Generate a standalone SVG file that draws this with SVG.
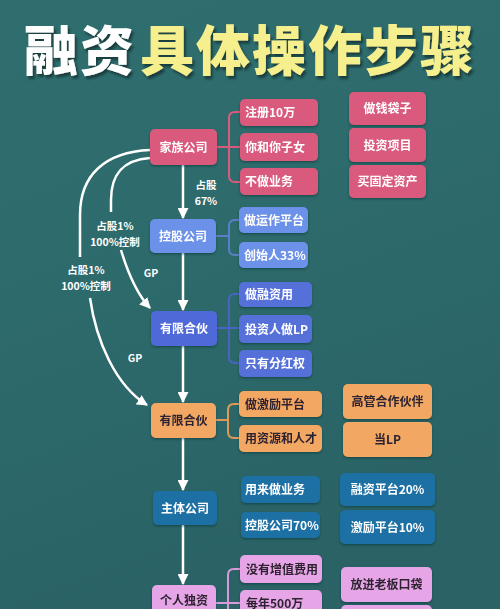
<svg xmlns="http://www.w3.org/2000/svg" width="500" height="609" viewBox="0 0 500 609">
<defs>
<linearGradient id="bg" x1="0" y1="0" x2="0.3" y2="1">
<stop offset="0" stop-color="#2f6e6f"/>
<stop offset="0.5" stop-color="#2d6a6b"/>
<stop offset="1" stop-color="#2a6265"/>
</linearGradient>
<filter id="shadow" x="-5%" y="-10%" width="110%" height="130%">
<feDropShadow dx="2" dy="3" stdDeviation="1.2" flood-color="#0e2a2b" flood-opacity="0.7"/>
</filter>
<filter id="bs" x="-10%" y="-10%" width="120%" height="130%">
<feDropShadow dx="0" dy="1.5" stdDeviation="1.2" flood-color="#0e2a2b" flood-opacity="0.45"/>
</filter>
<marker id="ah" viewBox="0 0 10 10" refX="9" refY="5" markerWidth="4.4" markerHeight="4.4" orient="auto" markerUnits="strokeWidth">
<path d="M0 0 L10 5 L0 10 Z" fill="#ffffff"/>
</marker>
</defs>
<style>
text{font-family:"Noto Sans CJK SC","Noto Sans",sans-serif;font-weight:700}
.t{font-size:54px;font-weight:900;letter-spacing:2px}
.n{font-size:12px;text-anchor:middle}
.l{font-size:12px}
.lab{font-size:10.5px;fill:#ffffff;text-anchor:middle}
.w{fill:#ffffff}
.d{fill:#2e2430}
.pk{fill:#d95a7d}
.lb{fill:#6c91e8}
.bl{fill:#4f6bd8}
.bl2{fill:#5670d9}
.or{fill:#f2a762}
.db{fill:#1d6fa3}
.lv{fill:#e6a5e6}
.arr{fill:none;stroke:#ffffff;stroke-width:2.5;marker-end:url(#ah)}
.cv{fill:none;stroke:#ffffff;stroke-width:2.5}
.br{fill:none;stroke-width:2}
</style>
<rect x="0" y="0" width="500" height="609" fill="url(#bg)"/>
<g id="title" filter="url(#shadow)">
<text class="t" x="24" y="71"><tspan fill="#ffffff">融资</tspan><tspan fill="#f6ef8e" dx="4">具体操作步骤</tspan></text>
</g>
<g id="connectors">
<path class="arr" d="M183 165 L183 218"/>
<path class="arr" d="M183 253 L183 310"/>
<path class="arr" d="M183 346 L183 402"/>
<path class="arr" d="M183 438 L183 490"/>
<path class="arr" d="M183 525 L183 584"/>
<path class="cv" d="M150 150 C105 152 80 175 80 215 L80 257"/>
<path class="arr" d="M90 298 C96 340 115 385 147 405"/>
<path class="cv" d="M150 158 C122 160 111 175 111 200 L111 212"/>
<path class="arr" d="M121 250 C127 270 135 292 150 308"/>
<path class="br" stroke="#d95a7d" d="M217 147 L229 147 M240 112 L235 112 Q229 112 229 118 L229 176 Q229 182 235 182 L240 182 M229 147 L240 147"/>
<path class="br" stroke="#5a7fc8" stroke-width="1.5" d="M216 236 L229 236 M239 220 L235 220 Q229 220 229 226 L229 249 Q229 255 235 255 L239 255"/>
<path class="br" stroke="#4a64c4" stroke-width="1.5" d="M217 328 L239 328 M239 294 L235 294 Q229 294 229 300 L229 357 Q229 363 235 363 L239 363"/>
<path class="br" stroke="#e09a55" d="M216 420 L228 420 M239 404 L234 404 Q228 404 228 410 L228 432 Q228 438 234 438 L239 438"/>
<path class="br" stroke="#d89ad8" d="M216 603 L240 603 M240 569 L234 569 Q228 569 228 575 L228 612"/>
</g>
<g id="labels">
<text class="lab" x="206" y="189">占股</text>
<text class="lab" x="206" y="204.5">67%</text>
<text class="lab" x="115" y="230">占股1%</text>
<text class="lab" x="115" y="245.5">100%控制</text>
<text class="lab" x="86" y="274">占股1%</text>
<text class="lab" x="86" y="289.5">100%控制</text>
<text class="lab" x="151" y="277">GP</text>
<text class="lab" x="135" y="362">GP</text>
</g>
<g id="n-family" filter="url(#bs)"><rect class="pk" x="150" y="129" width="67" height="36" rx="5"/><text class="n w" x="183.5" y="151.5">家族公司</text></g>
<g id="n-reg" filter="url(#bs)"><rect class="pk" x="240" y="99" width="78" height="27" rx="5"/><text class="l w" x="245" y="117">注册10万</text></g>
<g id="n-kids" filter="url(#bs)"><rect class="pk" x="240" y="133" width="78" height="28" rx="5"/><text class="l w" x="245" y="151.5">你和你子女</text></g>
<g id="n-nobiz" filter="url(#bs)"><rect class="pk" x="240" y="168" width="78" height="27" rx="5"/><text class="l w" x="245" y="186">不做业务</text></g>
<g id="n-bag" filter="url(#bs)"><rect class="pk" x="349" y="92" width="77" height="33" rx="5"/><text class="n w" x="387.5" y="113">做钱袋子</text></g>
<g id="n-invest" filter="url(#bs)"><rect class="pk" x="349" y="128" width="77" height="34" rx="5"/><text class="n w" x="387.5" y="149.5">投资项目</text></g>
<g id="n-asset" filter="url(#bs)"><rect class="pk" x="349" y="165" width="77" height="33" rx="5"/><text class="n w" x="387.5" y="186">买固定资产</text></g>
<g id="n-holding" filter="url(#bs)"><rect class="lb" x="150" y="219" width="66" height="34" rx="5"/><text class="n w" x="183" y="240.5">控股公司</text></g>
<g id="n-ops" filter="url(#bs)"><rect class="lb" x="239" y="207" width="69" height="26" rx="5"/><text class="l w" x="244" y="224.5">做运作平台</text></g>
<g id="n-founder" filter="url(#bs)"><rect class="lb" x="239" y="242" width="69" height="26" rx="5"/><text class="l w" x="244" y="259.5">创始人33%</text></g>
<g id="n-lp1" filter="url(#bs)"><rect class="bl" x="151" y="311" width="66" height="35" rx="5"/><text class="n w" x="184" y="333">有限合伙</text></g>
<g id="n-fin" filter="url(#bs)"><rect class="bl2" x="239" y="282" width="73" height="25" rx="5"/><text class="l w" x="245" y="299">做融资用</text></g>
<g id="n-invlp" filter="url(#bs)"><rect class="bl2" x="239" y="315" width="73" height="28" rx="5"/><text class="l w" x="245" y="333.5">投资人做LP</text></g>
<g id="n-div" filter="url(#bs)"><rect class="bl2" x="239" y="350" width="73" height="27" rx="5"/><text class="l w" x="245" y="368">只有分红权</text></g>
<g id="n-lp2" filter="url(#bs)"><rect class="or" x="151" y="403" width="65" height="35" rx="5"/><text class="n d" x="183.5" y="425">有限合伙</text></g>
<g id="n-incent" filter="url(#bs)"><rect class="or" x="239" y="391" width="83" height="26" rx="5"/><text class="l d" x="245" y="408.5">做激励平台</text></g>
<g id="n-talent" filter="url(#bs)"><rect class="or" x="239" y="425" width="83" height="27" rx="5"/><text class="l d" x="245" y="443">用资源和人才</text></g>
<g id="n-partner" filter="url(#bs)"><rect class="or" x="343" y="384" width="89" height="35" rx="5"/><text class="n d" x="387.5" y="406">高管合作伙伴</text></g>
<g id="n-aslp" filter="url(#bs)"><rect class="or" x="343" y="422" width="89" height="35" rx="5"/><text class="n d" x="387.5" y="444">当LP</text></g>
<g id="n-main" filter="url(#bs)"><rect class="db" x="153" y="491" width="64" height="34" rx="5"/><text class="n w" x="185" y="512.5">主体公司</text></g>
<g id="n-biz" filter="url(#bs)"><rect class="db" x="241" y="476" width="79" height="27" rx="5"/><text class="l w" x="245" y="494">用来做业务</text></g>
<g id="n-hold70" filter="url(#bs)"><rect class="db" x="241" y="512" width="79" height="26" rx="5"/><text class="l w" x="245" y="529.5">控股公司70%</text></g>
<g id="n-fin20" filter="url(#bs)"><rect class="db" x="340" y="473" width="95" height="33" rx="5"/><text class="n w" x="387.5" y="494">融资平台20%</text></g>
<g id="n-inc10" filter="url(#bs)"><rect class="db" x="340" y="510" width="95" height="34" rx="5"/><text class="n w" x="387.5" y="531.5">激励平台10%</text></g>
<g id="n-sole" filter="url(#bs)"><rect class="lv" x="152" y="585" width="64" height="40" rx="5"/><text class="n d" x="184" y="605">个人独资</text></g>
<g id="n-novat" filter="url(#bs)"><rect class="lv" x="240" y="555" width="82" height="28" rx="5"/><text class="l d" x="246" y="573.5">没有增值费用</text></g>
<g id="n-500" filter="url(#bs)"><rect class="lv" x="240" y="590" width="82" height="30" rx="5"/><text class="l d" x="246" y="607.5">每年500万</text></g>
<g id="n-pocket" filter="url(#bs)"><rect class="lv" x="341" y="567" width="91" height="35" rx="5"/><text class="n d" x="386.5" y="589">放进老板口袋</text></g>
<g id="n-more" filter="url(#bs)"><rect class="lv" x="341" y="605" width="91" height="20" rx="5"/></g>
</svg>
